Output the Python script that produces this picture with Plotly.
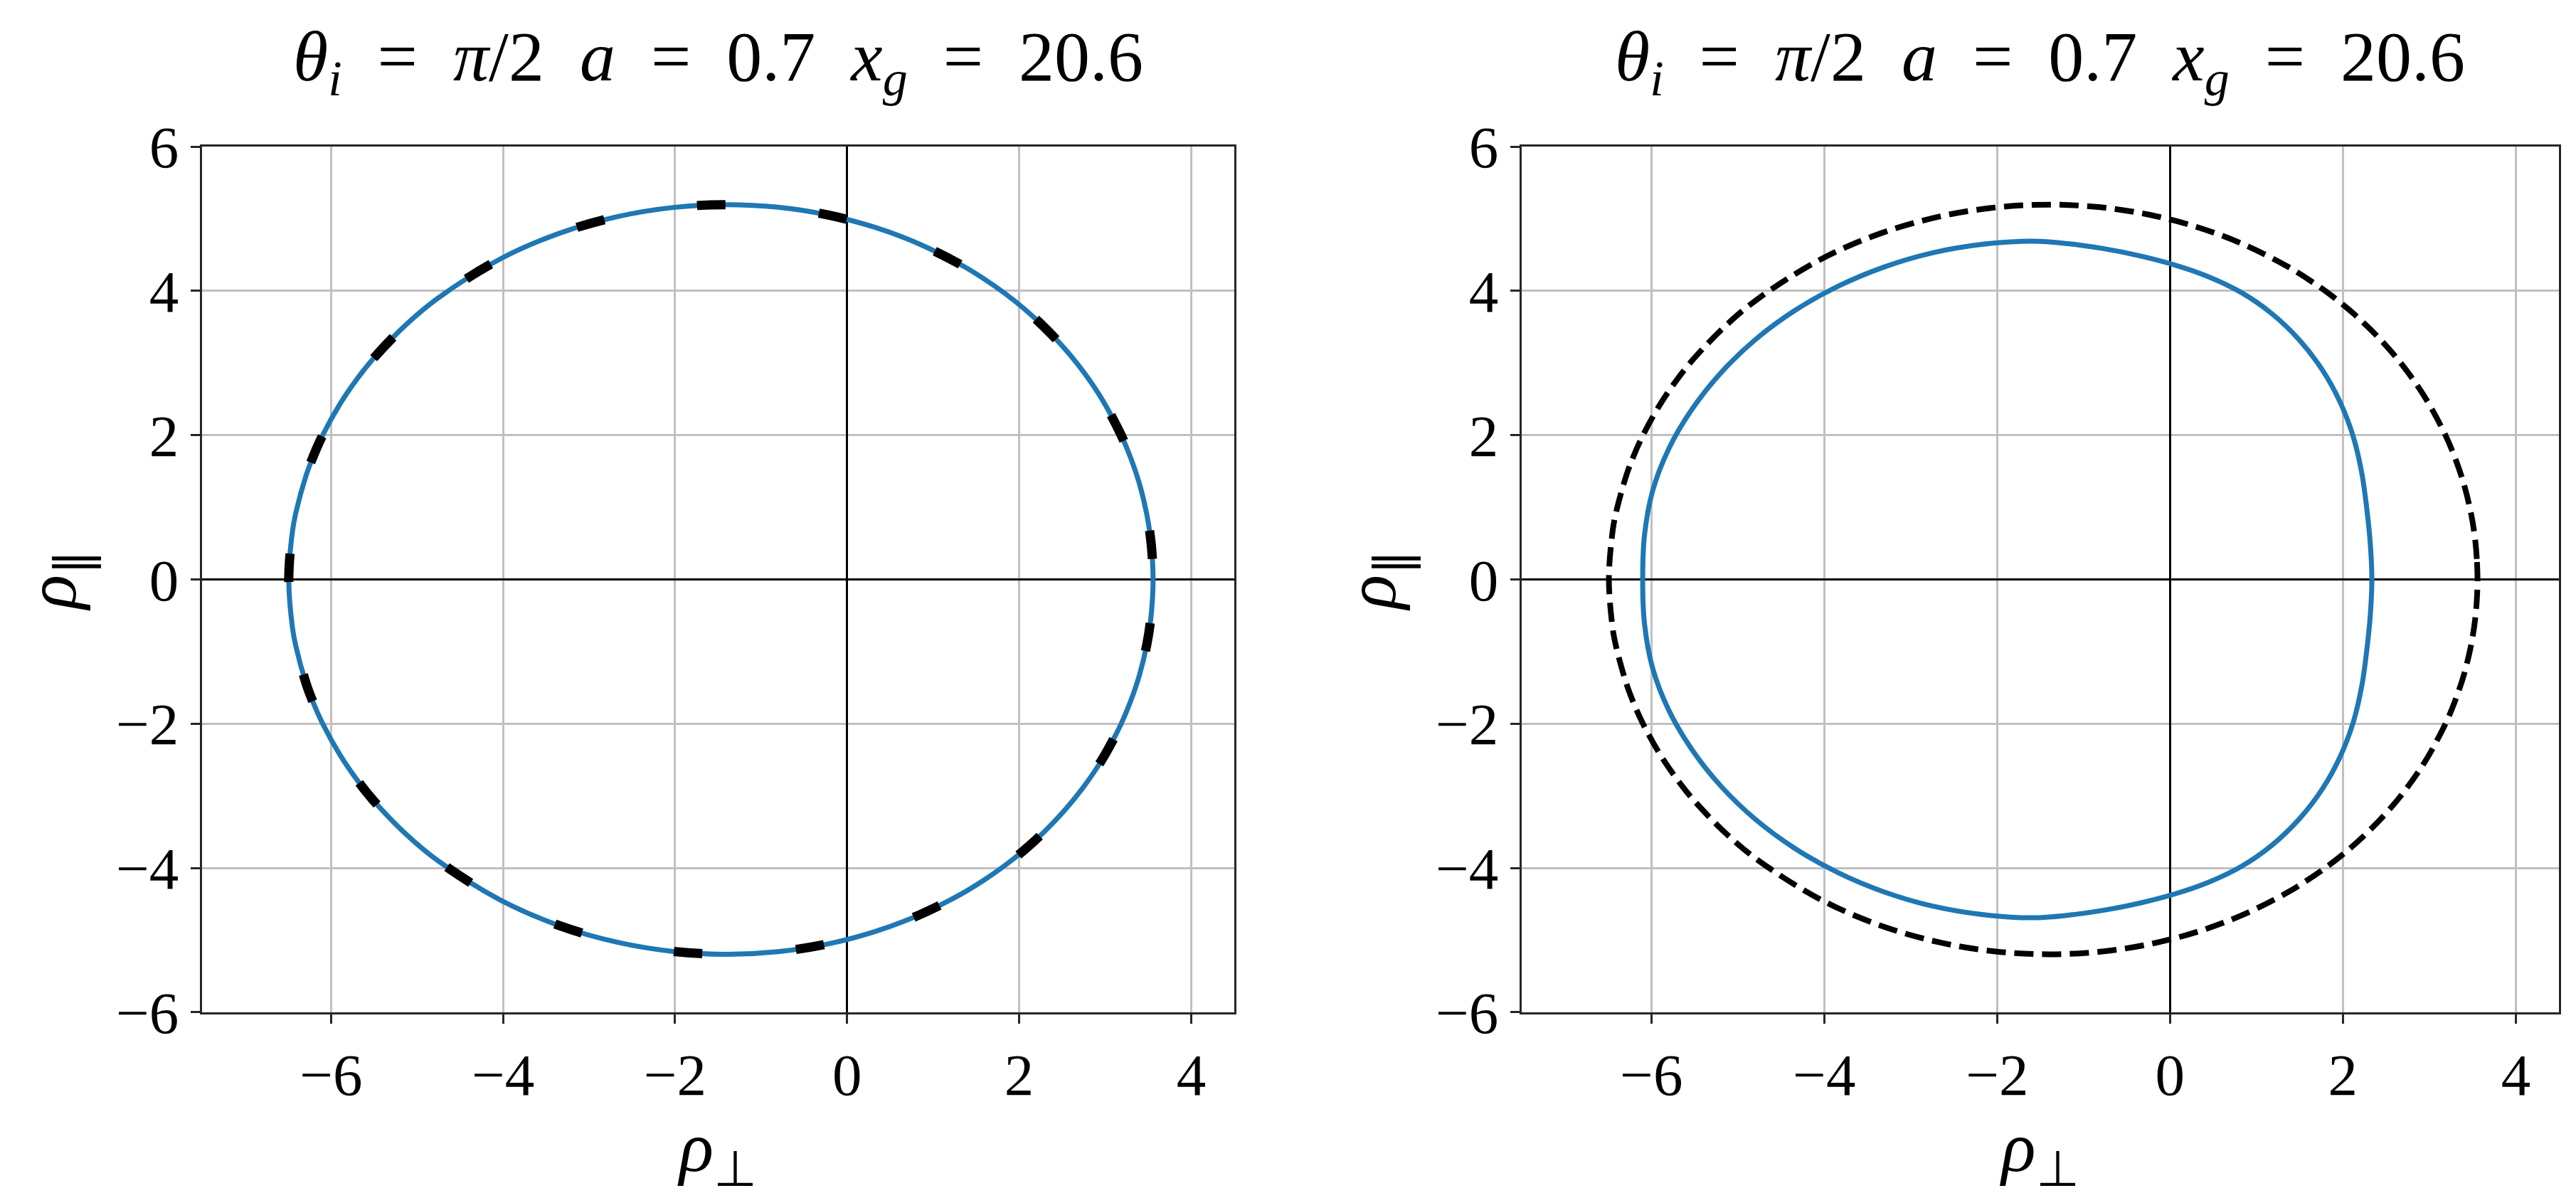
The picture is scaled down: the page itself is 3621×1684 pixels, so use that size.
import plotly.graph_objects as go

# Kerr shadow edge (dashed black): upper half right->left, then lower half left->right
kerr_x = [3.557, 3.549, 3.528, 3.485, 3.399, 3.290, 3.182, 2.964, 2.743, 2.519, 2.292, 2.062,
          1.827, 1.587, 1.343, 0.839, 0.314, -0.233, -0.805, -1.400, -2.020, -2.666, -3.338,
          -4.036, -4.760, -5.132, -5.511, -5.703, -5.897, -6.092, -6.210, -6.289, -6.408,
          -6.448, -6.491,
          -6.448, -6.408, -6.289, -6.210, -6.092, -5.897, -5.703, -5.511, -5.132, -4.760,
          -4.036, -3.338, -2.666, -2.020, -1.400, -0.805, -0.233, 0.314, 0.839, 1.343, 1.587,
          1.827, 2.062, 2.292, 2.519, 2.743, 2.964, 3.182, 3.290, 3.399, 3.485, 3.528, 3.549,
          3.557]
kerr_y = [0.0, 0.285, 0.569, 0.897, 1.324, 1.707, 2.011, 2.497, 2.886, 3.214, 3.498, 3.749,
          3.972, 4.171, 4.350, 4.651, 4.885, 5.055, 5.160, 5.196, 5.157, 5.031, 4.802,
          4.441, 3.897, 3.527, 3.058, 2.770, 2.430, 2.011, 1.697, 1.444, 0.929,
          0.669, 0.0,
          -0.669, -0.929, -1.444, -1.697, -2.011, -2.430, -2.770, -3.058, -3.527, -3.897,
          -4.441, -4.802, -5.031, -5.157, -5.196, -5.160, -5.055, -4.885, -4.651, -4.350, -4.171,
          -3.972, -3.749, -3.498, -3.214, -2.886, -2.497, -2.011, -1.707, -1.324, -0.897, -0.569, -0.285,
          0.0]

# blue curve in the right panel (same ordering)
curve_x = [2.335, 2.317, 2.276, 2.218, 2.121, 1.969, 1.760, 1.496, 1.183, 0.828, 0.439, 0.037,
           -0.369, -0.774, -1.181, -1.590, -2.178, -2.756, -3.314, -3.845, -4.341, -4.792,
           -5.190, -5.527, -5.798, -5.986, -6.079, -6.100,
           -6.079, -5.986, -5.798, -5.527, -5.190, -4.792, -4.341, -3.845, -3.314, -2.756,
           -2.178, -1.590, -1.181, -0.774, -0.369, 0.037, 0.439, 0.828, 1.183, 1.496, 1.760,
           1.969, 2.121, 2.218, 2.276, 2.317, 2.335]
curve_y = [0.0, 0.491, 0.982, 1.478, 1.974, 2.455, 2.908, 3.320, 3.680, 3.976, 4.200, 4.366,
           4.492, 4.587, 4.655, 4.690, 4.645, 4.526, 4.329, 4.062, 3.728, 3.330,
           2.872, 2.364, 1.813, 1.225, 0.615, 0.0,
           -0.615, -1.225, -1.813, -2.364, -2.872, -3.330, -3.728, -4.062, -4.329, -4.526,
           -4.645, -4.690, -4.655, -4.587, -4.492, -4.366, -4.200, -3.976, -3.680, -3.320, -2.908,
           -2.455, -1.974, -1.478, -0.982, -0.491, 0.0]

tick_vals_x = [-6, -4, -2, 0, 2, 4]
tick_vals_y = [-6, -4, -2, 0, 2, 4, 6]

SP = "\u2002"
title_text = (f"<i>θ</i><sub><i>i</i></sub>{SP}={SP}<i>π</i>/2{SP}<i>a</i>{SP}={SP}0.7{SP}"
              f"<i>x</i><sub><i>g</i></sub>{SP}={SP}20.6")

BLUE = "#1f77b4"
SPINE = "#262626"
GRID = "#c0c0c0"
FONT = "Liberation Serif"
SMOOTH = 1.0

fig = go.Figure()

# Left panel: blue curve with the thick long-dashed shadow on top
fig.add_trace(go.Scatter(x=kerr_x, y=kerr_y, mode="lines",
                         line=dict(color=BLUE, width=7, shape="spline", smoothing=SMOOTH),
                         xaxis="x", yaxis="y", showlegend=False))
fig.add_trace(go.Scatter(x=kerr_x, y=kerr_y, mode="lines",
                         line=dict(color="black", width=13, dash="40px,132px", shape="spline", smoothing=SMOOTH),
                         xaxis="x", yaxis="y", showlegend=False))

# Right panel
fig.add_trace(go.Scatter(x=kerr_x, y=kerr_y, mode="lines",
                         line=dict(color="black", width=8, dash="27px,12px", shape="spline", smoothing=SMOOTH),
                         xaxis="x2", yaxis="y2", showlegend=False))
fig.add_trace(go.Scatter(x=curve_x, y=curve_y, mode="lines",
                         line=dict(color=BLUE, width=7, shape="spline", smoothing=SMOOTH),
                         xaxis="x2", yaxis="y2", showlegend=False))

axis_common = dict(
    showgrid=True, gridcolor=GRID, gridwidth=2.5,
    zeroline=True, zerolinecolor="black", zerolinewidth=2.5,
    showline=True, linecolor=SPINE, linewidth=3, mirror=True,
    ticks="outside", ticklen=13, tickwidth=3, tickcolor=SPINE,
    tickfont=dict(family=FONT, size=83, color="black"),
    fixedrange=True,
)

x_title = dict(text="<i>ρ</i><sub>⊥</sub>", font=dict(family=FONT, size=100, color="black"), standoff=12)
y_title = dict(text="<i>ρ</i><sub>∥</sub>", font=dict(family=FONT, size=100, color="black"), standoff=24)

fig.update_layout(
    width=3621, height=1684,
    margin=dict(l=0, r=0, t=0, b=0),
    paper_bgcolor="white", plot_bgcolor="white",
    xaxis=dict(domain=[0.0762, 0.4769], range=[-7.5, 4.5], tickvals=tick_vals_x, anchor="y", title=x_title, **axis_common),
    yaxis=dict(domain=[0.1395, 0.9038], range=[-6, 6], tickvals=tick_vals_y, anchor="x", title=y_title, **axis_common),
    xaxis2=dict(domain=[0.5885, 0.9912], range=[-7.5, 4.5], tickvals=tick_vals_x, anchor="y2", title=x_title, **axis_common),
    yaxis2=dict(domain=[0.1395, 0.9038], range=[-6, 6], tickvals=tick_vals_y, anchor="x2", title=y_title, **axis_common),
)

# Panel titles
for xc in [0.2766, 0.7898]:
    fig.add_annotation(text=title_text, x=xc, y=(1684 - 104) / 1684, xref="paper", yref="paper",
                       xanchor="center", yanchor="bottom", showarrow=False,
                       font=dict(family=FONT, size=100, color="black"))

fig.write_html("out.html")
